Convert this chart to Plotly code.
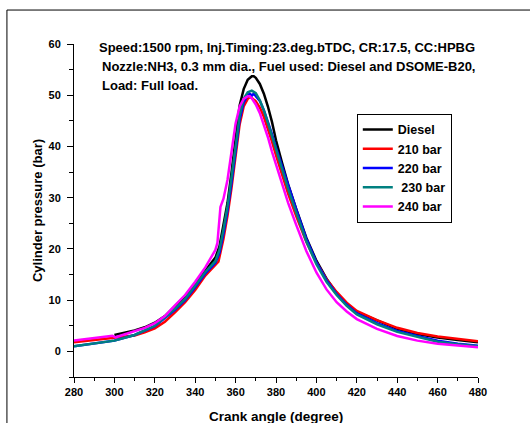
import plotly.graph_objects as go

# Crank angle (degree) and cylinder pressure (bar) for each fuel / injection pressure
diesel_angle = [300, 305, 310, 315, 320, 325, 330, 335, 340, 345, 350, 352, 354, 356, 358, 360,
                362, 364, 366, 368, 369, 370, 372, 374, 376, 378, 380, 383, 386, 390, 395, 400,
                405, 410, 415, 420, 430, 440, 450, 460, 470, 480]
diesel_p = [3.2, 3.6, 4.1, 4.7, 5.6, 6.9, 8.8, 10.8, 13.2, 15.8, 18.3, 20.5, 24.5, 29.0, 35.0, 42.0,
            48.0, 51.2, 53.0, 53.7, 53.7, 53.4, 52.2, 50.3, 47.8, 44.8, 41.2, 36.8, 32.6, 27.8, 22.2, 17.7,
            14.2, 11.4, 9.3, 7.7, 6.0, 4.4, 3.4, 2.7, 2.2, 1.8]

b210_angle = [280, 290, 300, 305, 310, 315, 320, 325, 330, 335, 340, 345, 350, 351.5, 354, 356,
              358, 360, 362, 364, 366, 367, 368, 370, 372, 374, 376, 378, 380, 383, 386, 390,
              395, 400, 405, 410, 415, 420, 430, 440, 450, 460, 470, 480]
b210_p = [1.8, 2.2, 2.6, 2.8, 3.1, 3.7, 4.5, 5.8, 7.6, 9.6, 12.0, 14.8, 16.9, 17.5, 22.0, 26.5,
          32.0, 38.5, 44.3, 47.8, 49.3, 49.6, 49.5, 48.8, 47.6, 45.8, 43.5, 41.0, 38.3, 34.5, 30.8, 26.4,
          21.4, 17.3, 14.1, 11.6, 9.5, 7.9, 6.1, 4.6, 3.6, 2.9, 2.4, 2.0]

b220_angle = [280, 290, 300, 310, 320, 330, 335, 340, 345, 350, 352, 354, 356, 358, 360, 362,
              364, 366, 367, 368, 369, 370, 372, 374, 376, 378, 380, 383, 386, 390, 395, 400,
              405, 410, 415, 420, 430, 440, 450, 460, 470, 480]
b220_p = [1.0, 1.5, 2.1, 3.2, 4.9, 8.1, 10.0, 12.5, 15.2, 17.3, 19.2, 23.0, 27.5, 33.0, 39.5, 45.2,
          48.6, 50.0, 50.3, 49.9, 50.3, 49.9, 48.9, 47.1, 44.9, 42.4, 39.8, 36.1, 32.3, 27.7, 22.0, 17.4,
          13.9, 11.2, 9.1, 7.4, 5.5, 4.0, 3.0, 2.1, 1.5, 1.1]

b230_angle = [280, 290, 300, 310, 320, 330, 335, 340, 345, 350, 352, 354, 356, 358, 360, 362,
              364, 366, 368, 370, 372, 374, 376, 378, 380, 383, 386, 390, 395, 400, 405, 410,
              415, 420, 430, 440, 450, 460, 470, 480]
b230_p = [1.0, 1.5, 2.1, 3.2, 5.0, 8.3, 10.2, 12.8, 15.5, 17.6, 19.8, 23.8, 28.3, 34.0, 40.5, 46.0,
          49.3, 50.6, 50.9, 50.4, 49.0, 47.0, 44.6, 42.0, 39.3, 35.5, 31.7, 27.1, 21.5, 17.0, 13.6, 11.0,
          8.9, 7.2, 5.3, 3.8, 2.8, 1.9, 1.4, 1.0]

b240_angle = [280, 290, 299, 300.5, 305, 310, 315, 320, 325, 330, 335, 340, 345, 350, 351, 352.5,
              354, 356, 358, 360, 362, 364, 366, 367, 368, 370, 372, 374, 376, 378, 380, 383,
              386, 390, 395, 400, 405, 410, 415, 420, 430, 440, 450, 460, 470, 480]
b240_p = [2.1, 2.6, 3.05, 2.75, 3.3, 3.9, 4.6, 5.5, 6.9, 9.0, 11.0, 13.6, 16.4, 19.8, 21.2, 28.2,
          29.8, 33.5, 39.0, 44.5, 47.8, 49.3, 49.8, 49.8, 49.4, 48.2, 46.5, 44.3, 41.8, 39.0, 36.4, 32.7,
          29.0, 24.7, 19.6, 15.4, 12.1, 9.6, 7.8, 6.3, 4.4, 3.0, 2.1, 1.5, 1.1, 0.8]

series = [
    ("Diesel", diesel_angle, diesel_p, "#000000"),
    ("210 bar", b210_angle, b210_p, "#ff0000"),
    ("220 bar", b220_angle, b220_p, "#0000ff"),
    ("\u00a0230 bar", b230_angle, b230_p, "#008080"),
    ("240 bar", b240_angle, b240_p, "#ff00ff"),
]

FONT = "Liberation Sans, Arial, sans-serif"

fig = go.Figure()
for name, xs, ys, color in series:
    fig.add_trace(go.Scatter(x=xs, y=ys, mode="lines", name=name,
                             line=dict(color=color, width=2.5)))

# Outer frame (top and left edges visible inside the page)
fig.add_shape(type="rect", xref="paper", yref="paper",
              x0=-0.166, x1=1.3, y0=-0.3, y1=1.102,
              line=dict(color="black", width=1), fillcolor="rgba(0,0,0,0)")

info_lines = [
    ("Speed:1500 rpm, Inj.Timing:23.deg.bTDC, CR:17.5, CC:HPBG", 0.057, 0.988),
    ("Nozzle:NH3, 0.3 mm dia., Fuel used: Diesel and DSOME-B20,", 0.064, 0.932),
    ("Load: Full load.", 0.064, 0.874),
]
for text, x, y in info_lines:
    fig.add_annotation(text=text, xref="paper", yref="paper", x=x, y=y,
                       xanchor="left", yanchor="middle", showarrow=False,
                       font=dict(family=FONT, size=13, color="black", weight="bold"))

# X-axis title placed low, near the bottom edge of the page
fig.add_annotation(text="Crank angle (degree)", xref="paper", yref="paper",
                   x=0.5, y=-0.12, xanchor="center", yanchor="middle", showarrow=False,
                   font=dict(family=FONT, size=13.5, color="black", weight="bold"))

fig.update_layout(
    width=530, height=423,
    margin=dict(l=74, r=52, t=44, b=46),
    paper_bgcolor="white", plot_bgcolor="white",
    font=dict(family=FONT, color="black"),
    showlegend=True,
    legend=dict(x=0.700, y=0.790, xanchor="left", yanchor="top",
                bordercolor="black", borderwidth=1, bgcolor="white",
                font=dict(family=FONT, size=12.5, color="black", weight="bold"),
                tracegroupgap=0),
    xaxis=dict(range=[280, 480], tick0=280, dtick=20, ticks="outside", ticklen=5,
               tickcolor="black", showline=True, linecolor="black", linewidth=1,
               showgrid=False, zeroline=False, automargin=False,
               tickfont=dict(family=FONT, size=11, color="black", weight="bold"),
               minor=dict(dtick=10, ticks="outside", ticklen=3, tickcolor="black")),
    yaxis=dict(range=[-5, 60], tick0=0, dtick=10, ticks="outside", ticklen=6,
               tickcolor="black", showline=True, linecolor="black", linewidth=1,
               showgrid=False, zeroline=False, ticklabelstandoff=4, automargin=False,
               tickfont=dict(family=FONT, size=11, color="black", weight="bold"),
               minor=dict(dtick=5, ticks="outside", ticklen=4, tickcolor="black"),
               title=dict(text="Cylinder pressure (bar)", standoff=2,
                          font=dict(family=FONT, size=13, color="black", weight="bold"))),
)

fig.write_html("out.html")
